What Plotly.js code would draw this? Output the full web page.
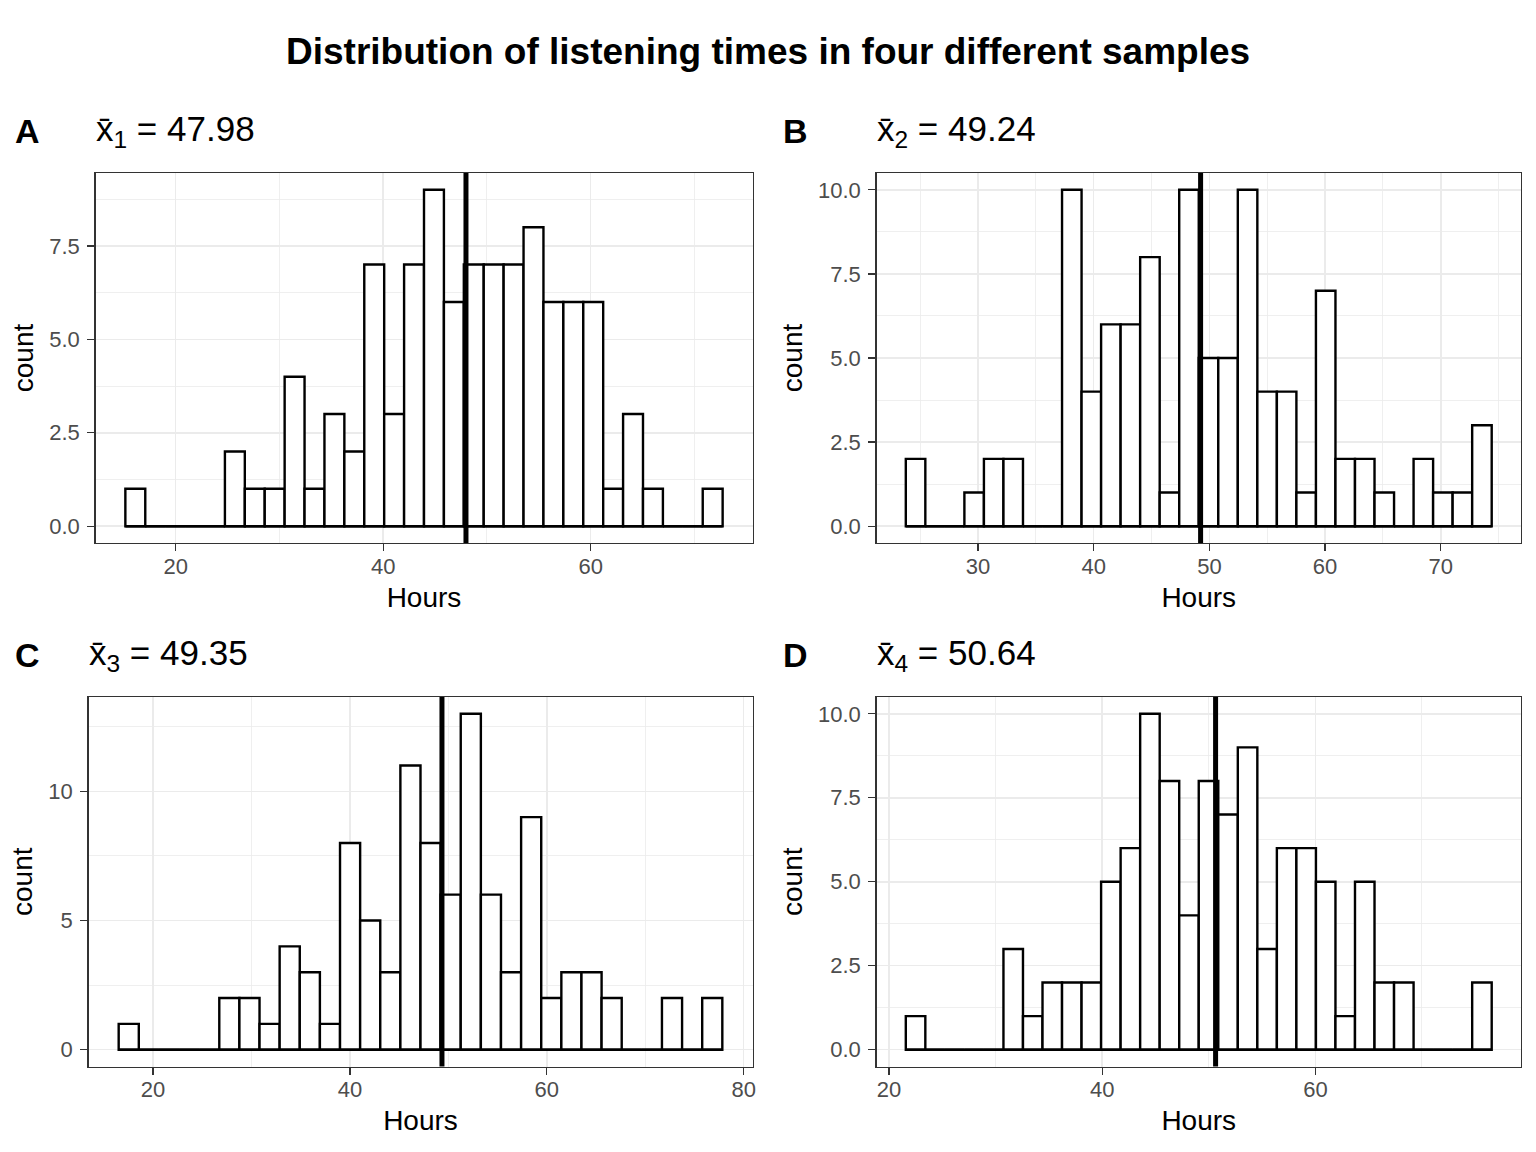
<!DOCTYPE html>
<html>
<head>
<meta charset="utf-8">
<script src="https://cdn.plot.ly/plotly-3.0.1.min.js"></script>
<style>html,body{margin:0;padding:0;background:#fff;}#chart{width:1536px;height:1152px;}</style>
</head>
<body>
<div id="chart"></div>
<script>
// ---- data ----
const panelTags = ['A', 'B', 'C', 'D'];
const sampleMeans = [47.98, 49.24, 49.35, 50.64];
const countsA = [1,0,0,0,0,2,1,1,4,1,3,2,7,3,7,9,6,7,7,7,8,6,6,6,1,3,1,0,0,1];
const countsB = [2,0,0,1,2,2,0,0,10,4,6,6,8,1,10,5,5,10,4,4,1,7,2,2,1,0,2,1,1,3];
const countsC = [1,0,0,0,0,2,2,1,4,3,1,8,5,3,11,8,6,13,6,3,9,2,3,3,2,0,0,2,0,2];
const countsD = [1,0,0,0,0,3,1,2,2,2,5,6,10,8,4,8,7,9,3,6,6,5,1,5,2,2,0,0,0,2];
const binStarts = [15.15, 23.76, 16.51, 21.58];   // left edge of first bin (Hours)
const binWidths = [1.919, 1.688, 2.044, 1.832];   // bin width (Hours)
const xTitle = 'Hours';
const yTitle = 'count';
const mainTitle = 'Distribution of listening times in four different samples';

// ---- styling / layout ----
const W = 1536, H = 1152;
const FONT = '"Liberation Sans", Arial, sans-serif';
const counts = [countsA, countsB, countsC, countsD];
// panel boxes in pixels [left, right, top, bottom]
const boxes = [
  [95.5, 752.5, 173, 543],
  [876.5, 1521, 173, 543],
  [88.5, 752.5, 697, 1066.5],
  [876.5, 1521, 697, 1066.5]
];
const xDtick = [20, 10, 20, 20];
const yDtick = [2.5, 2.5, 5, 2.5];
const yFmt = ['.1f', '.1f', 'd', '.1f'];

const traces = [];
const shapes = [];
const annotations = [];
const layout = {
  width: W, height: H,
  margin: {l: 0, r: 0, t: 0, b: 0},
  paper_bgcolor: '#ffffff',
  plot_bgcolor: '#ffffff',
  showlegend: false,
  font: {family: FONT, color: '#000000'},
  bargap: 0
};

for (let i = 0; i < 4; i++) {
  const c = counts[i];
  const n = c.length;
  const w = binWidths[i];
  const s = binStarts[i];
  const centers = c.map((_, k) => s + w * (k + 0.5));
  const end = s + w * n;
  const span = end - s;
  const ymax = Math.max(...c);
  const ax = i === 0 ? '' : String(i + 1);
  const xa = 'x' + ax, ya = 'y' + ax;
  const b = boxes[i];

  // baseline for empty bins (ggplot draws zero-height outlined rects)
  traces.push({
    type: 'scatter', mode: 'lines', x: [s, end], y: [0, 0],
    xaxis: xa, yaxis: ya, line: {color: '#000000', width: 2.4},
    hoverinfo: 'skip'
  });
  traces.push({
    type: 'bar', x: centers, y: c, width: c.map(() => w),
    xaxis: xa, yaxis: ya,
    marker: {color: '#ffffff', line: {color: '#000000', width: 2.4}},
    hoverinfo: 'x+y'
  });

  shapes.push({
    type: 'line', xref: xa, yref: ya + ' domain',
    x0: sampleMeans[i], x1: sampleMeans[i], y0: 0, y1: 1,
    line: {color: '#000000', width: 5}, layer: 'above'
  });

  const common = {
    showline: true, mirror: true, linecolor: '#333333', linewidth: 1.3,
    ticks: 'outside', ticklen: 7, tickwidth: 1.3, tickcolor: '#333333',
    tickfont: {family: FONT, size: 22, color: '#4D4D4D'},
    showgrid: true, gridcolor: '#EBEBEB', gridwidth: 1.5,
    zeroline: false, automargin: false, fixedrange: true
  };
  layout['xaxis' + ax] = Object.assign({}, common, {
    anchor: ya,
    domain: [b[0] / W, b[1] / W],
    range: [s - 0.05 * span, end + 0.05 * span],
    tick0: 0, dtick: xDtick[i],
    ticklabelstandoff: -4,
    minor: {tick0: 0, dtick: xDtick[i] / 2, showgrid: true, gridcolor: '#EBEBEB', gridwidth: 0.8},
    title: {text: xTitle, font: {family: FONT, size: 28, color: '#000000'}, standoff: 9}
  });
  layout['yaxis' + ax] = Object.assign({}, common, {
    anchor: xa,
    domain: [1 - b[3] / H, 1 - b[2] / H],
    range: [-0.05 * ymax, ymax * 1.05],
    tick0: 0, dtick: yDtick[i], tickformat: yFmt[i],
    ticklabelstandoff: 3,
    minor: {tick0: 0, dtick: yDtick[i] / 2, showgrid: true, gridcolor: '#EBEBEB', gridwidth: 0.8},
    title: {text: yTitle, font: {family: FONT, size: 28, color: '#000000'}, standoff: 7}
  });

  // tag and per-panel title
  const yMid = 1 - (b[2] - 42) / H;
  const tagX = (i % 2 === 0) ? 13 : 781;
  annotations.push({
    xref: 'paper', yref: 'paper', x: tagX / W, y: yMid,
    xanchor: 'left', yanchor: 'middle', showarrow: false,
    text: '<b>' + panelTags[i] + '</b>',
    font: {family: FONT, size: 34, color: '#000000'}
  });
  annotations.push({
    xref: 'paper', yref: 'paper', x: b[0] / W - 0.001, y: yMid,
    xanchor: 'left', yanchor: 'middle', showarrow: false,
    text: 'x\u0304<sub>' + (i + 1) + '</sub> = ' + sampleMeans[i].toFixed(2),
    font: {family: FONT, size: 35, color: '#000000'}
  });
}

annotations.push({
  xref: 'paper', yref: 'paper', x: 0.5, y: 1 - 52 / H,
  xanchor: 'center', yanchor: 'middle', showarrow: false,
  text: '<b>' + mainTitle + '</b>',
  font: {family: FONT, size: 37, color: '#000000'}
});

layout.shapes = shapes;
layout.annotations = annotations;

Plotly.newPlot('chart', traces, layout, {displayModeBar: false, staticPlot: true});
</script>
</body>
</html>
